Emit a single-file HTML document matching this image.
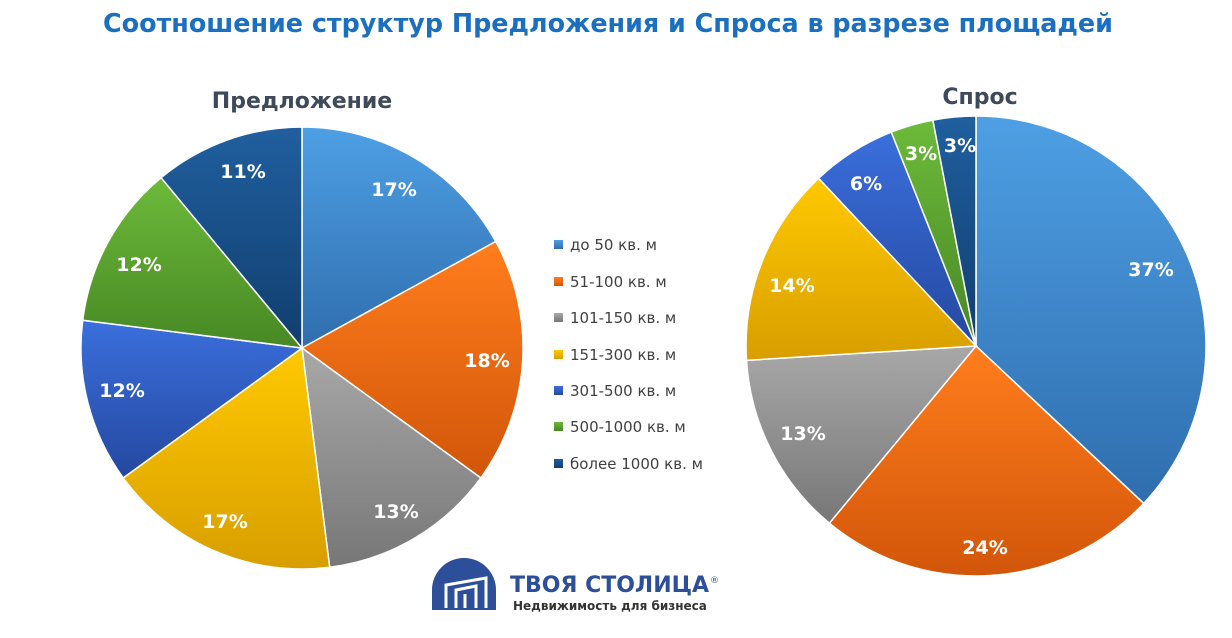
<!DOCTYPE html>
<html><head><meta charset="utf-8"><style>
body{margin:0;background:#fff;width:1232px;height:633px;overflow:hidden;font-family:"Liberation Sans","DejaVu Sans",sans-serif}
</style></head><body>
<svg width="1232" height="633" viewBox="0 0 1232 633" xmlns="http://www.w3.org/2000/svg" font-family="DejaVu Sans, Liberation Sans, sans-serif">
<defs>
<linearGradient id="g1" x1="0" y1="0" x2="0" y2="1"><stop offset="0" stop-color="#4e9fe4"/><stop offset="1" stop-color="#2f6eae"/></linearGradient>
<linearGradient id="g2" x1="0" y1="0" x2="0" y2="1"><stop offset="0" stop-color="#ff7d1c"/><stop offset="1" stop-color="#d2560a"/></linearGradient>
<linearGradient id="g3" x1="0" y1="0" x2="0" y2="1"><stop offset="0" stop-color="#a8a8a8"/><stop offset="1" stop-color="#777"/></linearGradient>
<linearGradient id="g4" x1="0" y1="0" x2="0" y2="1"><stop offset="0" stop-color="#ffc900"/><stop offset="1" stop-color="#d89e00"/></linearGradient>
<linearGradient id="g5" x1="0" y1="0" x2="0" y2="1"><stop offset="0" stop-color="#3b6fdc"/><stop offset="1" stop-color="#2448a0"/></linearGradient>
<linearGradient id="g6" x1="0" y1="0" x2="0" y2="1"><stop offset="0" stop-color="#6dba3a"/><stop offset="1" stop-color="#478824"/></linearGradient>
<linearGradient id="g7" x1="0" y1="0" x2="0" y2="1"><stop offset="0" stop-color="#205f9f"/><stop offset="1" stop-color="#113e6e"/></linearGradient>
</defs>
<text x="608" y="32" text-anchor="middle" font-size="25.4" font-weight="bold" fill="#1a6fc0">Соотношение структур Предложения и Спроса в разрезе площадей</text>
<text x="302" y="108" text-anchor="middle" font-size="22" font-weight="bold" fill="#3e4a5a">Предложение</text>
<text x="980" y="104" text-anchor="middle" font-size="22" font-weight="bold" fill="#3e4a5a">Спрос</text>
<g stroke="#fff" stroke-width="1.5">
<path d="M302,348 L302,127 A221,221 0 0 1 495.7,241.5 Z" fill="url(#g1)"/>
<path d="M302,348 L495.7,241.5 A221,221 0 0 1 480.8,477.9 Z" fill="url(#g2)"/>
<path d="M302,348 L480.8,477.9 A221,221 0 0 1 329.7,567.3 Z" fill="url(#g3)"/>
<path d="M302,348 L329.7,567.3 A221,221 0 0 1 123.2,477.9 Z" fill="url(#g4)"/>
<path d="M302,348 L123.2,477.9 A221,221 0 0 1 82.7,320.3 Z" fill="url(#g5)"/>
<path d="M302,348 L82.7,320.3 A221,221 0 0 1 161.1,177.7 Z" fill="url(#g6)"/>
<path d="M302,348 L161.1,177.7 A221,221 0 0 1 302,127 Z" fill="url(#g7)"/>
<path d="M976,346 L976,116 A230,230 0 0 1 1143.7,503.4 Z" fill="url(#g1)"/>
<path d="M976,346 L1143.7,503.4 A230,230 0 0 1 829.4,523.2 Z" fill="url(#g2)"/>
<path d="M976,346 L829.4,523.2 A230,230 0 0 1 746.5,360.4 Z" fill="url(#g3)"/>
<path d="M976,346 L746.5,360.4 A230,230 0 0 1 818.6,178.3 Z" fill="url(#g4)"/>
<path d="M976,346 L818.6,178.3 A230,230 0 0 1 891.3,132.1 Z" fill="url(#g5)"/>
<path d="M976,346 L891.3,132.1 A230,230 0 0 1 932.9,120.1 Z" fill="url(#g6)"/>
<path d="M976,346 L932.9,120.1 A230,230 0 0 1 976,116 Z" fill="url(#g7)"/>
</g>
<g font-size="19" font-weight="bold" fill="#fff" text-anchor="middle">
<text x="394" y="196">17%</text><text x="487" y="367">18%</text><text x="396" y="518">13%</text>
<text x="225" y="528">17%</text><text x="122" y="397">12%</text><text x="139" y="271">12%</text><text x="243" y="178">11%</text>
<text x="1151" y="276">37%</text><text x="985" y="554">24%</text><text x="803" y="440">13%</text>
<text x="792" y="292">14%</text><text x="866" y="190">6%</text><text x="921" y="160">3%</text><text x="960" y="152">3%</text>
</g>
<g font-size="15" fill="#404040">
<rect x="554" y="240" width="9" height="9" fill="url(#g1)"/><text x="570" y="250">до 50 кв. м</text>
<rect x="554" y="277" width="9" height="9" fill="url(#g2)"/><text x="570" y="287">51-100 кв. м</text>
<rect x="554" y="313" width="9" height="9" fill="url(#g3)"/><text x="570" y="323">101-150 кв. м</text>
<rect x="554" y="350" width="9" height="9" fill="url(#g4)"/><text x="570" y="360">151-300 кв. м</text>
<rect x="554" y="386" width="9" height="9" fill="url(#g5)"/><text x="570" y="396">301-500 кв. м</text>
<rect x="554" y="422" width="9" height="9" fill="url(#g6)"/><text x="570" y="432">500-1000 кв. м</text>
<rect x="554" y="459" width="9" height="9" fill="url(#g7)"/><text x="570" y="469">более 1000 кв. м</text>
</g>
<path d="M432,610 V590 A32,32 0 0 1 496,590 V610 Z" fill="#2d4f9a"/>
<g fill="none" stroke="#fff" stroke-width="3">
<path d="M446,608 V585 L486,578 V608"/><path d="M456,608 V590 L476,586 V608"/><path d="M465,608 V594"/>
</g>
<text x="510" y="592" font-size="22" font-weight="bold" fill="#2d4f9a">ТВОЯ СТОЛИЦА</text>
<text x="710" y="583" font-size="9" fill="#2d4f9a">®</text>
<text x="513" y="610" font-size="12" font-weight="bold" fill="#333">Недвижимость для бизнеса</text>
</svg>
</body></html>
